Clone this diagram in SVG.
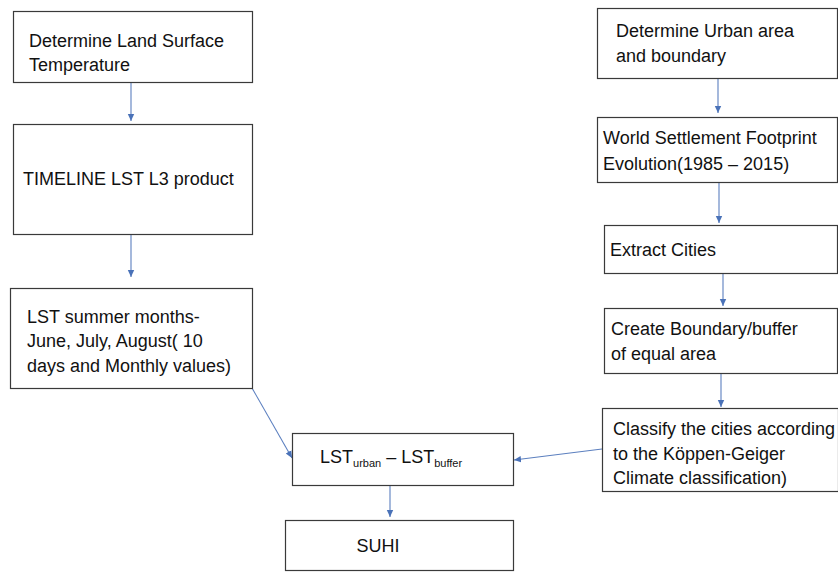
<svg xmlns="http://www.w3.org/2000/svg" width="838" height="572" viewBox="0 0 838 572">
<defs>
<marker id="ah" markerWidth="8" markerHeight="8" refX="7" refY="4" orient="auto" markerUnits="userSpaceOnUse">
<path d="M0,0.8 L7,4 L0,7.2 Z" fill="#4a72b8"/>
</marker>
</defs>
<style>
.box{fill:#fff;stroke:#3a3a3a;stroke-width:1.2}
.t{font-family:"Liberation Sans",Arial,sans-serif;font-size:18px;fill:#111}
.s{font-size:11px}
.c{fill:none;stroke:#5b7fbf;stroke-width:1.1;marker-end:url(#ah)}
</style>
<rect width="838" height="572" fill="#fff"/>
<g id="connectors">
<line class="c" x1="131" y1="82" x2="131" y2="121"/>
<line class="c" x1="131" y1="234" x2="131" y2="277"/>
<line class="c" x1="252" y1="388" x2="292" y2="458"/>
<line class="c" x1="390" y1="485" x2="390" y2="517"/>
<line class="c" x1="718" y1="78" x2="718" y2="113"/>
<line class="c" x1="719" y1="182" x2="719" y2="223"/>
<line class="c" x1="723" y1="273" x2="723" y2="306"/>
<line class="c" x1="721" y1="373" x2="721" y2="407"/>
<line class="c" x1="602" y1="449" x2="514" y2="460"/>
</g>
<g id="n1"><rect class="box" x="13.5" y="11.5" width="239" height="71"/>
<text class="t" x="29" y="47">Determine Land Surface</text><text class="t" x="29" y="71">Temperature</text></g>
<g id="n2"><rect class="box" x="13.5" y="124.5" width="239" height="110"/>
<text class="t" x="23" y="185">TIMELINE LST L3 product</text></g>
<g id="n3"><rect class="box" x="10.5" y="288.5" width="242" height="100"/>
<text class="t" x="27" y="323">LST summer months-</text><text class="t" x="27" y="347">June, July, August( 10</text><text class="t" x="27" y="372">days and Monthly values)</text></g>
<g id="n4"><rect class="box" x="292.5" y="433.5" width="221" height="52"/>
<text class="t" x="320" y="463">LST<tspan class="s" dy="4">urban</tspan><tspan dy="-4"> – LST</tspan><tspan class="s" dy="4">buffer</tspan></text></g>
<g id="n5"><rect class="box" x="285.5" y="520.5" width="228" height="50"/>
<text class="t" x="378" y="552" text-anchor="middle">SUHI</text></g>
<g id="r1"><rect class="box" x="597.5" y="8.5" width="240" height="70"/>
<text class="t" x="616" y="37">Determine Urban area</text><text class="t" x="616" y="62">and boundary</text></g>
<g id="r2"><rect class="box" x="597.5" y="117.5" width="240" height="65"/>
<text class="t" x="603" y="144">World Settlement Footprint</text><text class="t" x="603" y="170">Evolution(1985 – 2015)</text></g>
<g id="r3"><rect class="box" x="604.5" y="225.5" width="233" height="48"/>
<text class="t" x="610" y="256">Extract Cities</text></g>
<g id="r4"><rect class="box" x="604.5" y="308.5" width="233" height="65"/>
<text class="t" x="611" y="335">Create Boundary/buffer</text><text class="t" x="611" y="360">of equal area</text></g>
<g id="r5"><rect class="box" x="602.5" y="408.5" width="236" height="83"/>
<text class="t" x="613" y="435">Classify the cities according</text><text class="t" x="613" y="460">to the Köppen-Geiger</text><text class="t" x="613" y="484">Climate classification)</text></g>
</svg>
